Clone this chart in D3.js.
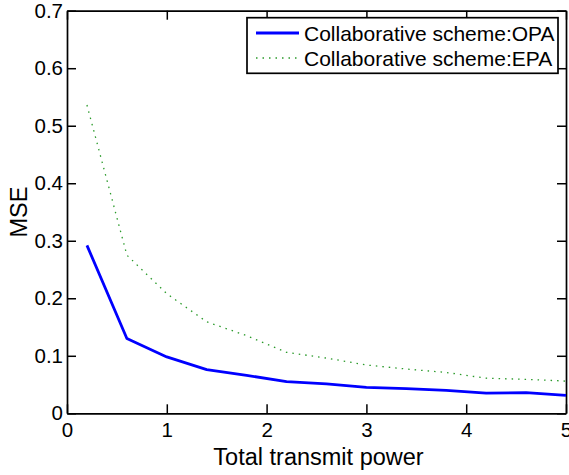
<!DOCTYPE html>
<html>
<head>
<meta charset="utf-8">
<script src="https://cdn.jsdelivr.net/npm/d3@7"></script>
<style>
  body { margin: 0; background: #fff; }
  svg { display: block; font-family: "Liberation Sans", Arial, Helvetica, sans-serif; }
</style>
</head>
<body>
<svg id="chart" width="569" height="475"></svg>
<script>
// data
const power = [0.2, 0.6, 1.0, 1.4, 1.8, 2.2, 2.6, 3.0, 3.4, 3.8, 4.2, 4.6, 5.0]
const mseOPA = [0.292, 0.130, 0.098, 0.076, 0.066, 0.055, 0.051, 0.045, 0.043, 0.040, 0.035, 0.036, 0.031]
const mseEPA = [0.536, 0.275, 0.208, 0.159, 0.135, 0.106, 0.096, 0.084, 0.077, 0.071, 0.061, 0.059, 0.056]
const seriesNames = ['Collaborative scheme:OPA', 'Collaborative scheme:EPA']
const xTicks = [0, 1, 2, 3, 4, 5]
const yTicks = [0, 0.1, 0.2, 0.3, 0.4, 0.5, 0.6, 0.7]
const xTitle = 'Total transmit power'
const yTitle = 'MSE'

const svg = d3.select('#chart')
const pLeft = 67, pRight = 566, pTop = 10.7, pBottom = 413.3

const x = d3.scaleLinear().domain([0, 5]).range([pLeft, pRight])
const y = d3.scaleLinear().domain([0, 0.7]).range([pBottom, pTop])

const fmtY = d => d === 0 ? '0' : d3.format('.1f')(d)

const styleAxis = (g) => {
    g.selectAll('path.domain').attr('stroke', '#000').attr('stroke-width', 1.7)
    g.selectAll('.tick line').attr('stroke', '#000').attr('stroke-width', 1.5)
    g.selectAll('.tick text').attr('fill', '#000').style('font-size', '20.5px')
}

// bottom / left with labels, top / right only ticks
svg.append('g')
    .attr('transform', `translate(0,${pBottom})`)
    .call(d3.axisBottom(x).tickValues(xTicks).tickSizeInner(-9).tickSizeOuter(0).tickPadding(9).tickFormat(d3.format('d')))
    .call(styleAxis)

svg.append('g')
    .attr('transform', `translate(${pLeft},0)`)
    .call(d3.axisLeft(y).tickValues(yTicks).tickSizeInner(-9).tickSizeOuter(0).tickPadding(4).tickFormat(fmtY))
    .call(styleAxis)

svg.append('g')
    .attr('transform', `translate(0,${pTop})`)
    .call(d3.axisTop(x).tickValues(xTicks).tickSizeInner(-9).tickSizeOuter(0).tickFormat(''))
    .call(styleAxis)

svg.append('g')
    .attr('transform', `translate(${pRight},0)`)
    .call(d3.axisRight(y).tickValues(yTicks).tickSizeInner(-9).tickSizeOuter(0).tickFormat(''))
    .call(styleAxis)

// lines
const line = d3.line()
    .x((d, i) => x(power[i]))
    .y(d => y(d))

svg.append('path')
    .datum(mseEPA)
    .attr('fill', 'none')
    .attr('stroke', '#2a9a2a')
    .attr('stroke-width', 1.3)
    .attr('stroke-dasharray', '1.5,5')
    .attr('d', line)

svg.append('path')
    .datum(mseOPA)
    .attr('fill', 'none')
    .attr('stroke', '#0000ff')
    .attr('stroke-width', 2.8)
    .attr('stroke-linejoin', 'round')
    .attr('d', line)

// axis titles
svg.append('text')
    .attr('x', (pLeft + pRight) / 2 + 2)
    .attr('y', 465)
    .attr('text-anchor', 'middle')
    .style('font-size', '23.5px')
    .text(xTitle)

svg.append('text')
    .attr('transform', `translate(27,${(pTop + pBottom) / 2}) rotate(-90)`)
    .attr('text-anchor', 'middle')
    .style('font-size', '23.5px')
    .text(yTitle)

// legend
const legend = svg.append('g')
legend.append('rect')
    .attr('x', 247).attr('y', 17.7)
    .attr('width', 311).attr('height', 55.6)
    .attr('fill', '#fff')
    .attr('stroke', '#000')
    .attr('stroke-width', 1.7)

const legendStyles = [
    { stroke: '#0000ff', width: 2.8, dash: null },
    { stroke: '#2a9a2a', width: 1.3, dash: '1.5,5' }
]

const rows = legend.selectAll('g.row')
    .data(seriesNames)
    .enter()
    .append('g')
    .attr('class', 'row')
    .attr('transform', (d, i) => `translate(0,${33 + i * 25})`)

rows.append('line')
    .attr('x1', 256).attr('x2', 299)
    .attr('y1', 0).attr('y2', 0)
    .attr('stroke', (d, i) => legendStyles[i].stroke)
    .attr('stroke-width', (d, i) => legendStyles[i].width)
    .attr('stroke-dasharray', (d, i) => legendStyles[i].dash)

rows.append('text')
    .attr('x', 304)
    .attr('y', 7.5)
    .style('font-size', '21px')
    .text(d => d)
</script>
</body>
</html>
